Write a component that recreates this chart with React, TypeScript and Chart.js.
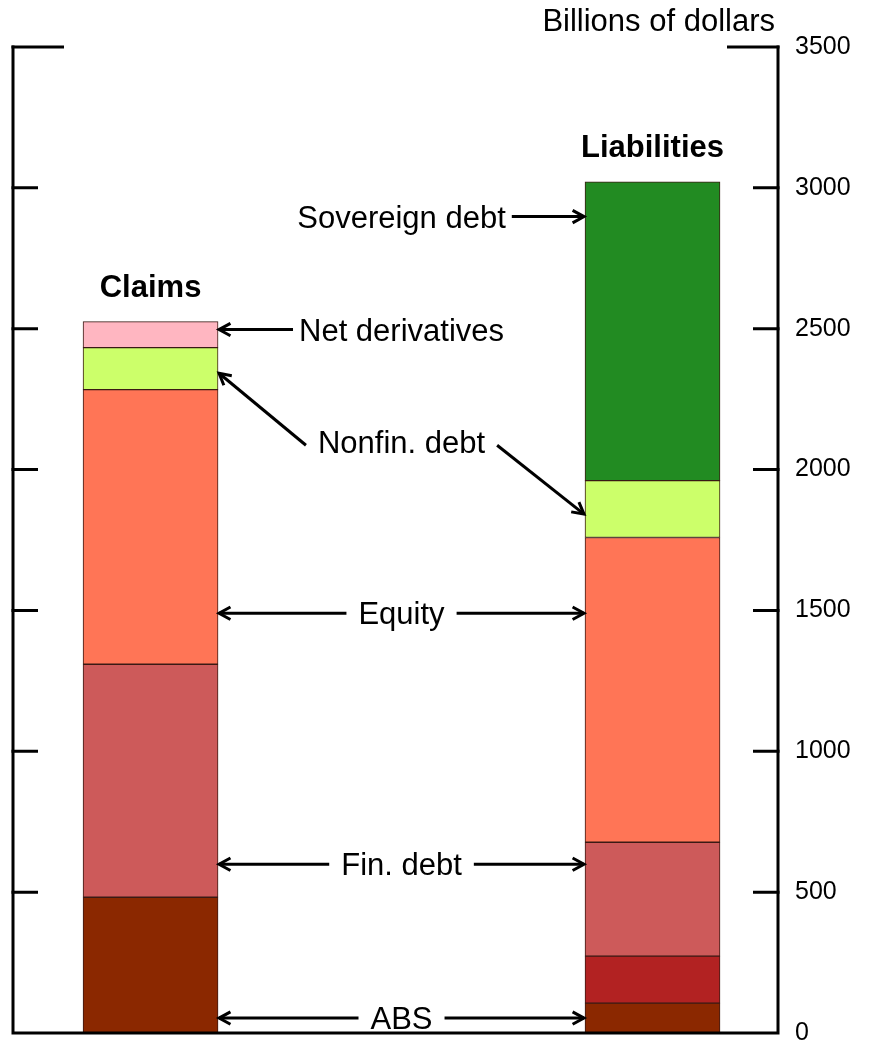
import { useEffect, useRef } from 'react';
import { Chart, registerables } from 'chart.js';

Chart.register(...registerables);

// ---- data ----
const categories = ['Claims', 'Liabilities'];
const categoryIndex = [0, 1];
const absValues = [482, 106];
const otherValues: (number | null)[] = [null, 167];
const finDebtValues = [827, 404];
const equityValues = [975, 1082];
const nonfinDebtValues = [149, 202];
const netDerivativesValues: (number | null)[] = [92, null];
const sovereignDebtValues: (number | null)[] = [null, 1060];
const yTickMin = 0;
const yTickMax = 3500;
const yTickStep = 500;
const unitLabel = 'Billions of dollars';

// annotation labels and the values they point at (null = no arrow on that side)
const annotationLabels = ['Sovereign debt', 'Net derivatives', 'Nonfin. debt', 'Equity', 'Fin. debt', 'ABS'];
const annotationLabelValues = [2898, 2497, 2097, 1490, 599, 53];
const annotationClaimsTargets: (number | null)[] = [null, 2497, 2342, 1490, 599, 53];
const annotationLiabilitiesTargets: (number | null)[] = [2898, null, 1842, 1490, 599, 53];

const FONT = "'Liberation Sans', Arial, sans-serif";
const BAR_W = 135;
const TXT = 31;

function toPoints(vals: (number | null)[]) {
  const pts: { x: number; y: number }[] = [];
  vals.forEach((v, i) => {
    if (v !== null) pts.push({ x: categoryIndex[i], y: v });
  });
  return pts;
}

function drawArrow(ctx: CanvasRenderingContext2D, x1: number, y1: number, x2: number, y2: number) {
  ctx.beginPath();
  ctx.moveTo(x1, y1);
  ctx.lineTo(x2, y2);
  ctx.stroke();
  const ang = Math.atan2(y2 - y1, x2 - x1);
  const h = 13;
  const a = 0.5;
  ctx.beginPath();
  ctx.moveTo(x2 - h * Math.cos(ang - a), y2 - h * Math.sin(ang - a));
  ctx.lineTo(x2, y2);
  ctx.lineTo(x2 - h * Math.cos(ang + a), y2 - h * Math.sin(ang + a));
  ctx.stroke();
}

const framePlugin = {
  id: 'frame',
  afterDatasetsDraw(chart: any) {
    const { ctx, chartArea: ca, scales } = chart;
    const y = scales.y;
    const x = scales.x;
    ctx.save();
    ctx.strokeStyle = '#000';
    ctx.lineWidth = 3;
    ctx.lineJoin = 'miter';
    // axes frame
    ctx.beginPath();
    ctx.moveTo(ca.left, ca.top - 1.5);
    ctx.lineTo(ca.left, ca.bottom);
    ctx.lineTo(ca.right, ca.bottom);
    ctx.lineTo(ca.right, ca.top - 1.5);
    ctx.stroke();
    // inward ticks
    y.ticks.forEach((t: any) => {
      if (t.value === yTickMin) return;
      const py = y.getPixelForValue(t.value);
      const len = t.value === yTickMax ? 51 : 25;
      ctx.beginPath();
      ctx.moveTo(ca.left - 1.5, py);
      ctx.lineTo(ca.left + len, py);
      ctx.moveTo(ca.right - len, py);
      ctx.lineTo(ca.right + 1.5, py);
      ctx.stroke();
    });

    // unit label
    ctx.fillStyle = '#000';
    ctx.font = `${TXT}px ${FONT}`;
    ctx.textAlign = 'right';
    ctx.textBaseline = 'alphabetic';
    ctx.fillText(unitLabel, ca.right - 3, 31);

    // bar edges
    const leftBarRight = x.getPixelForValue(categoryIndex[0]) + BAR_W / 2;
    const rightBarLeft = x.getPixelForValue(categoryIndex[1]) - BAR_W / 2;

    // category titles above stacks
    ctx.font = `bold ${TXT}px ${FONT}`;
    ctx.textAlign = 'center';
    categories.forEach((c, i) => {
      let top = Infinity;
      chart.data.datasets.forEach((_: any, di: number) => {
        const meta = chart.getDatasetMeta(di);
        meta.data.forEach((el: any, k: number) => {
          const raw: any = chart.data.datasets[di].data[k];
          if (raw && raw.x === categoryIndex[i]) top = Math.min(top, el.y);
        });
      });
      ctx.fillText(c, x.getPixelForValue(categoryIndex[i]), top - 36 + 11);
    });

    // annotations
    ctx.font = `${TXT}px ${FONT}`;
    const cx = (leftBarRight + rightBarLeft) / 2;
    annotationLabels.forEach((lab, i) => {
      const py = y.getPixelForValue(annotationLabelValues[i]);
      ctx.textAlign = 'center';
      ctx.fillText(lab, cx, py + 11);
      const w = ctx.measureText(lab).width;
      const lt = annotationClaimsTargets[i];
      const rt = annotationLiabilitiesTargets[i];
      const both = lt !== null && rt !== null;
      const gap = both ? 12 : 6;
      if (lt !== null) {
        const ty = y.getPixelForValue(lt);
        drawArrow(ctx, cx - w / 2 - gap, py + (Math.abs(ty - py) > 5 ? 3 : 0), leftBarRight + 1, ty);
      }
      if (rt !== null) {
        const ty = y.getPixelForValue(rt);
        drawArrow(ctx, cx + w / 2 + gap, py + (Math.abs(ty - py) > 5 ? 3 : 0), rightBarLeft - 1, ty);
      }
    });
    ctx.restore();
  },
};

export default function App() {
  const ref = useRef<HTMLCanvasElement | null>(null);
  useEffect(() => {
    if (!ref.current) return;
    const border = '#3a1a14';
    const mk = (label: string, vals: (number | null)[], color: string) => ({
      label,
      data: toPoints(vals),
      backgroundColor: color,
      borderColor: border,
      borderWidth: 1,
      borderSkipped: false,
      barThickness: BAR_W,
    });
    const chart = new Chart(ref.current, {
      type: 'bar',
      data: {
        datasets: [
          mk('ABS', absValues, '#8B2800'),
          mk('Other', otherValues, '#B22222'),
          mk('Fin. debt', finDebtValues, '#CD5A5A'),
          mk('Equity', equityValues, '#FF7556'),
          mk('Nonfin. debt', nonfinDebtValues, '#CCFF6A'),
          mk('Net derivatives', netDerivativesValues, '#FFB6C1'),
          mk('Sovereign debt', sovereignDebtValues, '#228B22'),
        ] as any,
      },
      options: {
        responsive: false,
        animation: false,
        devicePixelRatio: 1,
        layout: { padding: { left: 13, top: 47, bottom: 15, right: 0 } },
        plugins: { legend: { display: false }, tooltip: { enabled: false }, title: { display: false } },
        scales: {
          x: {
            type: 'linear',
            display: false,
            offset: false,
            stacked: true,
            min: -0.274,
            max: 1.25,
          },
          y: {
            position: 'right',
            stacked: true,
            min: yTickMin,
            max: yTickMax,
            grid: { display: false, drawTicks: false },
            border: { display: false },
            ticks: {
              stepSize: yTickStep,
              padding: 17,
              color: '#000',
              font: { family: FONT, size: 25 },
              callback: (v: any) => String(v),
            },
            afterFit: (s: any) => {
              s.width = 93;
              s.paddingTop = 0;
              s.paddingBottom = 0;
            },
          },
        },
      },
      plugins: [framePlugin],
    });
    return () => chart.destroy();
  }, []);
  return (
    <div style={{ position: 'absolute', left: 0, top: 0, width: 871, height: 1048, background: '#fff' }}>
      <canvas ref={ref} width={871} height={1048} style={{ display: 'block' }} />
    </div>
  );
}
